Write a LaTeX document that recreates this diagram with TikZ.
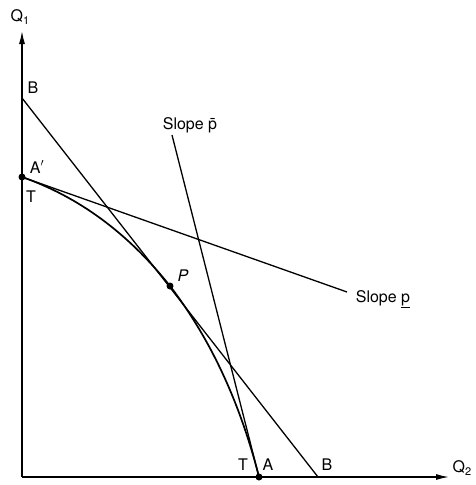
\documentclass[tikz,border=0pt]{standalone}
\usepackage{fontspec}
\setmainfont{TeX Gyre Heros}
\usetikzlibrary{arrows.meta}
\begin{document}
\begin{tikzpicture}[x=1pt,y=-1pt,
  axisline/.style={line width=1.3pt,-{Latex[length=13pt,width=6pt]}},
  plainline/.style={line width=1.3pt},
  lbl/.style={font=\fontsize{16}{18}\selectfont,inner sep=0pt},
  dot/.style={circle,fill=black,inner sep=0pt,minimum size=7pt}]
\useasboundingbox (0,0) rectangle (475,485);
\coordinate (O) at (22,477);
\coordinate (Ytip) at (22,31);
\coordinate (Xtip) at (449,477);
\coordinate (B1) at (22,98);
\coordinate (B2) at (318,477);
\coordinate (Ap) at (22,177);
\coordinate (P) at (170,286);
\coordinate (A) at (259,477);
\coordinate (Lend) at (347,292);
\coordinate (Ltop) at (172,135);
% axes
\draw[axisline] (O) -- (Ytip);
\draw[axisline] (O) -- (Xtip);
% lines
\draw[plainline] (B1) -- (B2);
\draw[plainline] (Ap) -- (Lend);
\draw[plainline] (Ltop) -- (A);
% frontier
\draw[line width=1.7pt] (Ap) .. controls (78.5,196.7) and (127.9,233) .. (P)
   .. controls (210.3,338.6) and (240,402.3) .. (A);
% dots
\node[dot] (dAp) at (Ap) {};
\node[dot] (dP) at (P) {};
\node[dot] (dA) at (A) {};
% labels
\node[lbl] (q1) at (20,17) {Q\raisebox{-0.35ex}{\fontsize{11}{12}\selectfont 1}};
\node[lbl] (q2) at (462,468) {Q\raisebox{-0.35ex}{\fontsize{11}{12}\selectfont 2}};
\node[lbl] (lB1) at (33,88) {B};
\node[lbl] (lAp) at (37,167) {A$'$};
\node[lbl] (lT1) at (31,197) {T};
\node[lbl] (lP) at (183,276) {\itshape P};
\node[lbl] (lT2) at (243,465) {T};
\node[lbl] (lA) at (268,465) {A};
\node[lbl] (lB2) at (327,465) {B};
\node[lbl] (lsp1) at (190,125) {Slope \={p}};
\node[lbl] (lsp2) at (383,299) {Slope \underline{p}};
\end{tikzpicture}
\end{document}
